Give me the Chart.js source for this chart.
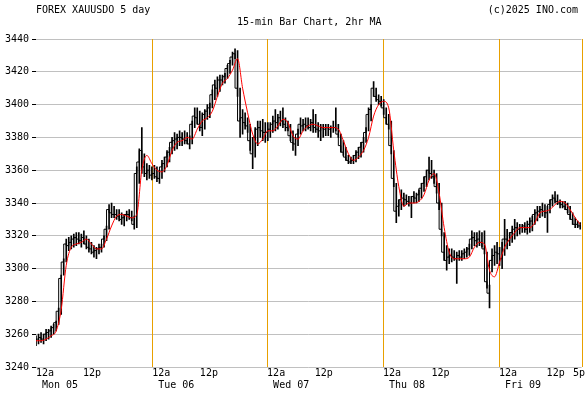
<!DOCTYPE html>
<html>
<head>
<meta charset="utf-8">
<script src="https://cdn.jsdelivr.net/npm/chart.js@4.4.1/dist/chart.umd.min.js"></script>
<style>
  html, body { margin: 0; padding: 0; background: #fff; }
</style>
</head>
<body>
<canvas id="chart" width="585" height="394"></canvas>
<script>
// 30-minute bars, Mon 12a -> Fri 5p (trading hours only)
const lows = [
  3253,3254,3255,3254,3256,3257,3258,3260,3262,3266,
  3272,3296,3304,3311,3312,3313,3314,3315,3313,3315,
  3312,3310,3309,3307,3306,3309,3310,3313,3317,3324,
  3331,3331,3330,3329,3327,3326,3329,3330,3329,3324,
  3325,3352,3358,3356,3354,3355,3354,3355,3353,3352,
  3355,3359,3362,3365,3370,3372,3373,3375,3375,3376,
  3376,3373,3376,3386,3388,3384,3381,3385,3391,3392,
  3398,3403,3405,3408,3412,3413,3416,3419,3424,3428,
  3405,3380,3382,3385,3383,3372,3361,3368,3375,3380,
  3378,3377,3378,3380,3383,3384,3385,3387,3386,3384,
  3384,3378,3372,3369,3375,3382,3384,3384,3385,3384,
  3383,3383,3380,3378,3380,3381,3381,3380,3383,3384,
  3380,3371,3369,3366,3364,3364,3364,3365,3367,3368,
  3371,3377,3384,3390,3405,3402,3400,3399,3394,3388,
  3385,3370,3350,3328,3332,3336,3338,3339,3338,3331,
  3340,3340,3341,3343,3347,3350,3354,3355,3352,3346,
  3336,3320,3305,3299,3303,3304,3305,3291,3305,3305,
  3306,3307,3308,3312,3314,3313,3314,3313,3309,3288,
  3276,3298,3302,3303,3302,3300,3308,3312,3314,3316,
  3318,3320,3321,3322,3322,3321,3322,3323,3327,3329,
  3331,3332,3331,3322,3334,3338,3340,3339,3337,3337,
  3336,3334,3330,3327,3325,3325,3324
];
const highs = [
  3259,3260,3261,3260,3263,3263,3265,3266,3268,3276,
  3296,3306,3318,3319,3320,3321,3322,3322,3321,3323,
  3320,3318,3316,3314,3313,3315,3315,3320,3326,3339,
  3340,3338,3336,3336,3334,3333,3335,3336,3335,3332,
  3362,3373,3386,3370,3364,3363,3362,3363,3362,3360,
  3366,3368,3372,3374,3380,3383,3382,3384,3383,3384,
  3383,3381,3390,3398,3398,3396,3395,3397,3400,3401,
  3409,3415,3417,3418,3418,3419,3424,3427,3432,3434,
  3433,3410,3397,3395,3392,3388,3380,3386,3390,3390,
  3391,3389,3389,3389,3393,3397,3394,3396,3398,3392,
  3390,3388,3384,3380,3385,3392,3391,3392,3392,3391,
  3397,3394,3389,3388,3388,3388,3388,3387,3390,3398,
  3388,3382,3378,3374,3369,3368,3369,3372,3374,3377,
  3380,3386,3398,3400,3414,3410,3406,3405,3403,3398,
  3394,3390,3372,3352,3342,3348,3346,3345,3344,3344,
  3347,3346,3348,3352,3356,3360,3368,3366,3360,3358,
  3352,3340,3322,3314,3312,3312,3311,3310,3311,3311,
  3312,3313,3315,3323,3322,3322,3323,3322,3323,3310,
  3290,3312,3314,3316,3313,3316,3330,3324,3322,3326,
  3330,3328,3327,3327,3328,3329,3331,3332,3336,3338,
  3338,3340,3339,3338,3342,3345,3347,3345,3342,3341,
  3341,3340,3338,3334,3331,3329,3328
];
const closes = [
  3256,3257,3258,3257,3260,3261,3262,3264,3267,3274,
  3294,3304,3315,3314,3316,3318,3319,3318,3317,3319,
  3315,3313,3312,3310,3311,3312,3313,3318,3324,3336,
  3334,3333,3333,3332,3330,3331,3333,3333,3331,3327,
  3358,3365,3372,3362,3358,3360,3357,3358,3356,3355,
  3362,3364,3368,3371,3377,3378,3379,3380,3380,3379,
  3378,3376,3388,3393,3392,3388,3386,3394,3396,3398,
  3406,3412,3410,3415,3415,3417,3422,3425,3429,3431,
  3410,3390,3392,3389,3387,3378,3370,3380,3385,3386,
  3384,3383,3383,3385,3388,3390,3389,3392,3390,3388,
  3386,3381,3377,3376,3382,3388,3387,3388,3387,3386,
  3389,3386,3385,3384,3386,3385,3386,3385,3386,3386,
  3382,3375,3371,3368,3366,3365,3366,3369,3371,3374,
  3377,3383,3394,3397,3410,3405,3403,3402,3398,3392,
  3388,3375,3355,3335,3338,3342,3343,3342,3341,3340,
  3344,3343,3345,3349,3352,3356,3360,3358,3356,3350,
  3340,3324,3310,3305,3307,3308,3307,3306,3308,3307,
  3309,3310,3312,3318,3319,3317,3318,3316,3312,3292,
  3285,3305,3308,3310,3309,3306,3318,3318,3317,3322,
  3324,3325,3324,3325,3326,3324,3327,3329,3333,3334,
  3335,3336,3335,3334,3339,3342,3343,3341,3340,3339,
  3338,3336,3333,3330,3327,3327,3326
];
// 2hr moving average, one reading per trading hour
const maValues = [
  3256,3256,3257,3259,3262,3275,3302,3313,3315,3316,
  3318,3315,3312,3312,3318,3326,3332,3333,3332,3331,
  3333,3360,3369,3364,3360,3359,3363,3372,3377,3378,
  3380,3379,3385,3390,3392,3396,3405,3413,3416,3421,
  3428,3410,3395,3382,3376,3379,3384,3384,3387,3391,
  3389,3381,3379,3384,3387,3388,3387,3386,3386,3386,
  3385,3378,3370,3366,3368,3372,3380,3393,3400,3402,
  3398,3372,3350,3338,3340,3340,3341,3345,3354,3358,
  3346,3325,3310,3306,3306,3306,3307,3313,3316,3315,
  3299,3295,3304,3313,3318,3322,3325,3325,3325,3328,
  3334,3335,3336,3339,3341,3340,3336,3331,3327
];
// x axis: trading hours since Mon 12a
const tickHours = [0, 9.32, 23.06, 32.52, 45.86, 55.32, 68.86, 78.47, 91.86, 101.33, 106.55];
const tickLabels = [
  ['12a', ' Mon 05'], '12p',
  ['12a', ' Tue 06'], '12p',
  ['12a', ' Wed 07'], '12p',
  ['12a', ' Thu 08'], '12p',
  ['12a', ' Fri 09'], '12p',
  '5p'
];
// midnights plus the Friday close get an orange line
const dayLines = [23.06, 45.86, 68.86, 91.86, 108.27];

const FONT = '"DejaVu Sans Mono", monospace';
const ORANGE = '#e8a000';

const barData = lows.map((lo, i) => ({ x: i * 0.5, y: [lo, highs[i]] }));
const closeData = closes.map((c, i) => ({ x: i * 0.5, y: c }));
const maData = maValues.map((v, h) => ({ x: h, y: v }));

const dayLinePlugin = {
  id: 'dayLines',
  beforeDatasetsDraw(chart) {
    const c = chart.ctx;
    const xs = chart.scales.x;
    const area = chart.chartArea;
    c.save();
    c.strokeStyle = ORANGE;
    c.lineWidth = 1;
    dayLines.forEach(v => {
      const px = Math.round(xs.getPixelForValue(v)) + 0.5;
      c.beginPath();
      c.moveTo(px, area.top);
      c.lineTo(px, area.bottom);
      c.stroke();
    });
    c.restore();
  }
};

const headerText = {
  id: 'headerText',
  afterDraw(chart) {
    const c = chart.ctx;
    c.save();
    c.font = '10px ' + FONT;
    c.fillStyle = '#000';
    c.textBaseline = 'alphabetic';
    c.textAlign = 'left';
    c.fillText('FOREX XAUUSDO 5 day', 36, 13);
    c.fillText('15-min Bar Chart, 2hr MA', 237, 25);
    c.textAlign = 'right';
    c.fillText('(c)2025 INO.com', 578, 13);
    c.restore();
  }
};

new Chart(document.getElementById('chart'), {
  data: {
    datasets: [
      {
        type: 'line',
        data: maData,
        borderColor: '#ff0000',
        borderWidth: 1,
        pointRadius: 0,
        cubicInterpolationMode: 'monotone',
        order: 0
      },
      {
        type: 'line',
        data: closeData,
        borderColor: '#000',
        borderWidth: 1,
        pointRadius: 0,
        stepped: 'after',
        order: 1
      },
      {
        type: 'bar',
        data: barData,
        backgroundColor: '#000',
        borderWidth: 0,
        barThickness: 1,
        order: 2
      }
    ]
  },
  plugins: [dayLinePlugin, headerText],
  options: {
    responsive: false,
    animation: false,
    devicePixelRatio: 1,
    layout: { padding: { top: 39, right: 3, left: 0, bottom: 0 } },
    plugins: { legend: { display: false }, tooltip: { enabled: false } },
    scales: {
      x: {
        type: 'linear',
        offset: false,
        min: 0,
        max: 108.27,
        afterBuildTicks: (scale) => { scale.ticks = tickHours.map(v => ({ value: v })); },
        afterFit: (scale) => { scale.height = 27; },
        border: { display: false },
        grid: { display: false, offset: false, drawTicks: false },
        ticks: {
          autoSkip: false,
          maxRotation: 0,
          align: 'start',
          padding: 0,
          color: '#000',
          font: { family: FONT, size: 10, lineHeight: 1.2 },
          callback: (value, index) => tickLabels[index]
        }
      },
      y: {
        min: 3240,
        max: 3440,
        afterFit: (scale) => { scale.width = 36; },
        border: { display: false },
        grid: { color: '#c0c0c0', tickColor: '#000', tickLength: 4, lineWidth: 1 },
        ticks: {
          stepSize: 20,
          padding: 3,
          color: '#000',
          font: { family: FONT, size: 10 },
          callback: (value) => String(value)
        }
      }
    }
  }
});
</script>
</body>
</html>
